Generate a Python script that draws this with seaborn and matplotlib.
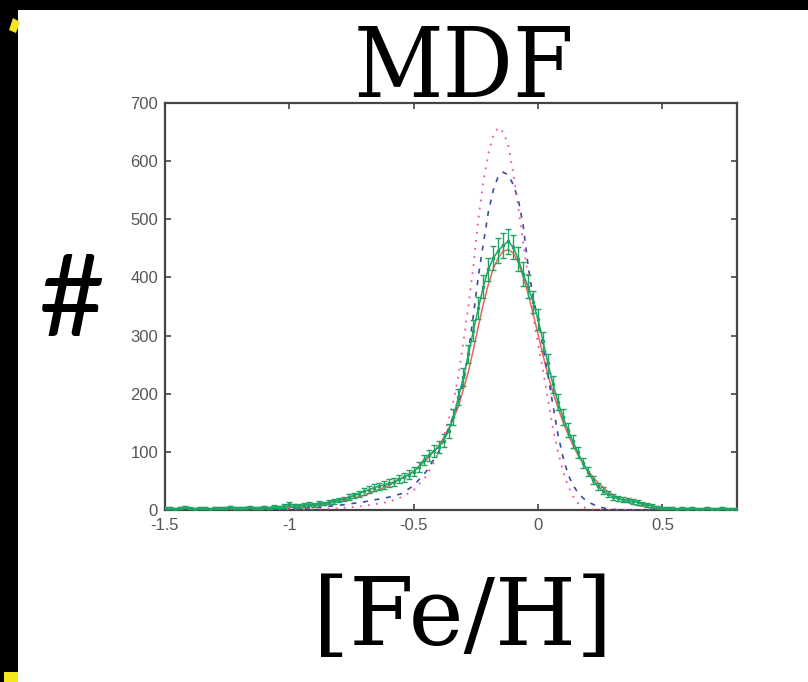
import numpy as np
import pandas as pd
import matplotlib
matplotlib.use("Agg")
import matplotlib.pyplot as plt
from matplotlib.patches import Rectangle, Polygon
import seaborn as sns

# ---------------- data ----------------
FEH_BINS = np.round(np.arange(-1.50, 0.801, 0.02), 2)
COUNTS = [3, 4, 2, 3, 5, 3, 2, 4, 3, 2,
          3, 4, 3, 5, 4, 3, 4, 5, 3, 4,
          5, 4, 6, 5, 7, 10, 8, 7, 9, 10,
          9, 12, 11, 14, 15, 17, 19, 22, 25, 28,
          32, 35, 38, 41, 43, 46, 48, 53, 56, 61,
          66, 74, 86, 94, 101, 108, 119, 136, 160, 194,
          229, 268, 308, 347, 384, 414, 433, 446, 455, 462,
          452, 432, 406, 384, 358, 328, 290, 252, 216, 186,
          160, 138, 118, 99, 81, 66, 52, 41, 33, 27,
          23, 20, 18, 17, 15, 13, 11, 9, 7, 5,
          4, 3, 3, 2, 3, 2, 3, 2, 2, 3,
          2, 2, 3, 2, 2, 2]
ERRORS = [2, 2, 1, 2, 2, 2, 1, 2, 2, 1,
          2, 2, 2, 2, 2, 2, 2, 2, 2, 2,
          2, 2, 2, 2, 3, 3, 3, 3, 3, 3,
          3, 3, 3, 4, 4, 4, 4, 5, 5, 5,
          6, 6, 6, 6, 7, 7, 7, 7, 7, 8,
          8, 9, 9, 10, 10, 10, 11, 12, 13, 14,
          15, 16, 18, 19, 20, 20, 21, 21, 21, 21,
          21, 21, 20, 20, 19, 18, 17, 16, 15, 14,
          13, 12, 11, 10, 9, 8, 7, 6, 6, 5,
          5, 4, 4, 4, 4, 4, 3, 3, 3, 2,
          2, 2, 2, 1, 2, 1, 2, 1, 1, 2,
          1, 1, 2, 1, 1, 1]

RED_X = [-1.5, -1.2, -1.0, -0.9, -0.8, -0.7, -0.6, -0.5, -0.45, -0.40, -0.36, -0.32,
         -0.28, -0.26, -0.24, -0.22, -0.20, -0.18, -0.16, -0.14, -0.12, -0.10, -0.08,
         -0.06, -0.04, -0.02, 0.00, 0.02, 0.04, 0.06, 0.08, 0.10, 0.12, 0.14, 0.16,
         0.18, 0.20, 0.24, 0.28, 0.32, 0.36, 0.40, 0.45, 0.5, 0.6, 0.8]
RED_Y = [0, 1, 4, 8, 14, 25, 42, 66, 86, 110, 138, 178,
         238, 276, 316, 354, 388, 415, 434, 445, 448, 442, 426,
         402, 372, 338, 302, 266, 232, 202, 176, 152, 131, 112, 95,
         81, 68, 47, 32, 21, 13, 8, 4, 2, 0.5, 0]

BLUE_X = [-1.5, -1.2, -1.0, -0.9, -0.8, -0.7, -0.6, -0.55, -0.5, -0.45, -0.40, -0.36,
          -0.32, -0.30, -0.28, -0.26, -0.24, -0.22, -0.20, -0.18, -0.16, -0.14, -0.12,
          -0.10, -0.08, -0.06, -0.04, -0.02, 0.00, 0.02, 0.04, 0.06, 0.08, 0.10, 0.12,
          0.14, 0.16, 0.18, 0.20, 0.24, 0.28, 0.32, 0.4, 0.8]
BLUE_Y = [0, 0.5, 2, 4, 8, 14, 22, 28, 42, 66, 100, 140,
          185, 218, 270, 335, 402, 458, 512, 550, 574, 581, 576,
          560, 535, 490, 420, 366, 328, 280, 232, 180, 130, 92, 62,
          43, 30, 21, 14, 6, 2, 0.5, 0, 0]

PINK_X = [-1.5, -1.0, -0.8, -0.7, -0.6, -0.55, -0.5, -0.45, -0.42, -0.40, -0.38, -0.36,
          -0.34, -0.32, -0.30, -0.28, -0.26, -0.24, -0.22, -0.20, -0.18, -0.16, -0.14,
          -0.12, -0.10, -0.08, -0.06, -0.04, -0.02, 0.00, 0.02, 0.04, 0.06, 0.08, 0.10,
          0.12, 0.14, 0.16, 0.18, 0.22, 0.3, 0.8]
PINK_Y = [0, 0.5, 3, 7, 14, 22, 34, 58, 81, 100, 125, 155,
          188, 232, 290, 350, 420, 500, 565, 612, 645, 658, 650,
          628, 580, 522, 460, 400, 335, 285, 240, 190, 140, 100, 68,
          42, 24, 12, 5, 1, 0, 0]

X_TICKS = [-1.5, -1.0, -0.5, 0.0, 0.5]
X_TICK_LABELS = ["-1.5", "-1", "-0.5", "0", "0.5"]
Y_TICKS = [0, 100, 200, 300, 400, 500, 600, 700]

# ---------------- figure ----------------
sns.set_theme(style="white")
plt.rcParams["font.family"] = ["Liberation Sans", "DejaVu Sans"]

W, H = 808, 682
fig = plt.figure(figsize=(W / 100, H / 100), dpi=100)
fig.patch.set_facecolor("white")

# black frame remnants of the slide
fig.patches.append(Rectangle((0, 1 - 10 / H), 1, 10 / H, transform=fig.transFigure,
                             facecolor="black", edgecolor="none", zorder=0))
fig.patches.append(Rectangle((0, 0), 18 / W, 1, transform=fig.transFigure,
                             facecolor="black", edgecolor="none", zorder=0))
fig.patches.append(Polygon([(9 / W, 1 - 30 / H), (13 / W, 1 - 18 / H), (20 / W, 1 - 22 / H),
                            (16 / W, 1 - 33 / H)], closed=True, transform=fig.transFigure,
                           facecolor="#f5e61e", edgecolor="none", zorder=1))
fig.patches.append(Rectangle((4 / W, 0), 14 / W, 10 / H, transform=fig.transFigure,
                             facecolor="#f5e61e", edgecolor="none", zorder=1))

ax = fig.add_axes([165 / W, (H - 510) / H, (737 - 165) / W, (510 - 103) / H])
ax.set_facecolor("white")

sns.lineplot(x=RED_X, y=RED_Y, ax=ax, color="#f0625c", linewidth=1.1, zorder=2)
sns.lineplot(x=BLUE_X, y=BLUE_Y, ax=ax, color="#3c4aa0", linewidth=1.2,
             linestyle=(0, (3, 4)), zorder=3)
sns.lineplot(x=PINK_X, y=PINK_Y, ax=ax, color="#f0529c", linewidth=1.3,
             linestyle=(0, (1, 3.5)), zorder=3)

ax.errorbar(FEH_BINS, COUNTS, yerr=ERRORS, color="#1fa463", linewidth=1.1,
            marker="s", markersize=2.0, elinewidth=1.0, capsize=2, capthick=1.0, zorder=4)

ax.set_xlim(-1.5, 0.8)
ax.set_ylim(0, 700)
ax.set_xticks(X_TICKS)
ax.set_xticklabels(X_TICK_LABELS)
ax.set_yticks(Y_TICKS)
ax.set_xlabel("")
ax.set_ylabel("")
ax.tick_params(axis="both", direction="in", length=4, width=1.2, color="#444444",
               labelsize=12, labelcolor="#555555",
               top=True, right=True, bottom=True, left=True)
ax.tick_params(axis="x", pad=6)
ax.tick_params(axis="y", pad=5)
for s in ax.spines.values():
    s.set_visible(True)
    s.set_color("#444444")
    s.set_linewidth(1.6)

# big slide texts
fig.text(464 / W, 1 - 97 / H, "MDF", family=["DejaVu Serif"], fontstretch="condensed",
         fontsize=70, color="black", ha="center", va="baseline")
fig.text(463 / W, 1 - 645 / H, "[Fe/H]", family=["DejaVu Serif"], fontsize=67,
         color="black", ha="center", va="baseline")
fig.text(72 / W, 1 - 304 / H, "#", family=["Lato", "DejaVu Sans"], fontweight="normal",
         fontsize=82, color="black", ha="center", va="center")

fig.savefig("out.png", dpi=100, facecolor="white")
